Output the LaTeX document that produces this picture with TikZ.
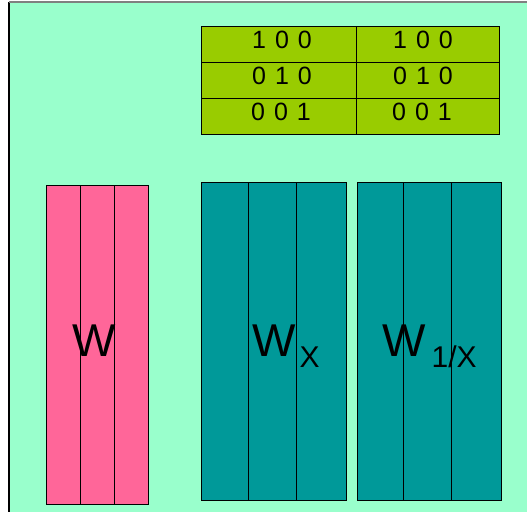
\documentclass[tikz,border=0pt]{standalone}
\usepackage{fontspec}
\setmainfont{Liberation Sans}
\definecolor{mint}{HTML}{99FFCC}
\definecolor{rose}{HTML}{FF6699}
\definecolor{tealbox}{HTML}{009999}
\definecolor{limebox}{HTML}{99CC00}
\tikzset{
  cell/.style={draw=black, line width=1pt},
  divider/.style={draw=black, line width=0.9pt},
  digits/.style={anchor=base, inner sep=0pt, font=\fontsize{25}{30}\selectfont},
  biglabel/.style={anchor=base west, inner sep=0pt, font=\fontsize{46}{50}\selectfont},
}
\newcommand{\trip}[3]{#1\hspace{9pt}#2\hspace{9pt}#3}
\newcommand{\lowsub}[1]{\raisebox{-11pt}{\fontsize{30}{32}\selectfont #1}}
\begin{document}
\begin{tikzpicture}[x=1pt,y=-1pt]
\useasboundingbox (0,0) rectangle (527,512);
% page background and slide area
\fill[white] (0,0) rectangle (527,512);
\fill[mint] (9,2) rectangle (527,512);
\draw[black, line width=1.5pt] (9,2) -- (9,512);
\draw[gray, line width=1.5pt] (9,2) -- (527,2);

% identity matrices table
\fill[limebox] (201,26) rectangle (499,134);
\draw[divider] (201,62) -- (499,62);
\draw[divider] (201,98) -- (499,98);
\draw[divider] (356,26) -- (356,134);
\draw[cell] (201,26) rectangle (499,134);
\node[digits] (r1a) at (282,48) {\trip100};
\node[digits] (r1b) at (423,48) {\trip100};
\node[digits] (r2a) at (282,84) {\trip010};
\node[digits] (r2b) at (423,84) {\trip010};
\node[digits] (r3a) at (281,120) {\trip001};
\node[digits] (r3b) at (422,120) {\trip001};

% W block
\fill[rose] (46,185) rectangle (148,504);
\draw[divider] (80,185) -- (80,504);
\draw[divider] (114,185) -- (114,504);
\draw[cell] (46,185) rectangle (148,504);

% W_X block
\fill[tealbox] (201,182) rectangle (346,500);
\draw[divider] (248,182) -- (248,500);
\draw[divider] (296,182) -- (296,500);
\draw[cell] (201,182) rectangle (346,500);

% W_{1/X} block
\fill[tealbox] (357,182) rectangle (501,500);
\draw[divider] (403,182) -- (403,500);
\draw[divider] (451,182) -- (451,500);
\draw[cell] (357,182) rectangle (501,500);

% labels
\node[biglabel] (lw) at (72,356) {W};
\node[biglabel] (lwx) at (252,356) {W\hspace{4pt}\lowsub{X}};
\node[biglabel] (lwix) at (382,356) {W\hspace{6pt}\lowsub{1/X}};
\end{tikzpicture}
\end{document}
